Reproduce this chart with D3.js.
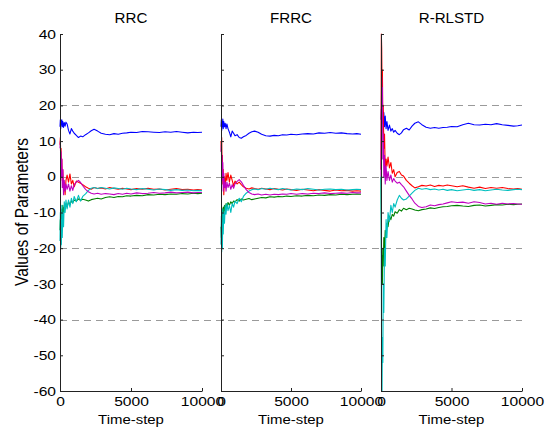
<!DOCTYPE html>
<html>
<head>
<meta charset="utf-8">
<script src="https://cdn.jsdelivr.net/npm/d3@7"></script>
<style>
  body { margin: 0; background: #fff; }
  text { font-family: "Liberation Sans", Arial, Helvetica, sans-serif; fill: #000; }
</style>
</head>
<body>
<div class="graphContainer"></div>
<script>
var width = 548;
var height = 432;

var panelTitles = ["RRC", "FRRC", "R-RLSTD"];
var yTicks = [40, 30, 20, 10, 0, -10, -20, -30, -40, -50, -60];
var xTicks = [0, 5000, 10000];
var refLines = [20, 0, -20, -40];

var timeSteps = [0, 25, 50, 75, 100, 130, 160, 200, 250, 300, 360, 420, 500, 600, 700, 800, 900, 1000, 1150, 1300,
  1450, 1600, 1800, 2000, 2200, 2400, 2650, 2900, 3200, 3500, 3800, 4100, 4400, 4700, 5000, 5400, 5800, 6200, 6600, 7000,
  7400, 7800, 8200, 8600, 9000, 9400, 9700, 10000];

// RRC
var rrcBlue = [14, 16, 13.5, 15.8, 14.5, 16, 14, 15.5, 13.8, 15.2, 14.2, 15.3, 14.8, 13, 12, 13.5, 12.8, 12.2, 11.6, 11.0,
  11.4, 11.2, 11.8, 12.3, 12.9, 13.3, 12.8, 12.2, 11.9, 11.8, 12.1, 11.9, 12.2, 12.3, 12.5, 12.4, 12.7, 12.6, 12.5, 12.4,
  12.6, 12.5, 12.7, 12.5, 12.3, 12.5, 12.4, 12.5];
var rrcGreen = [-15, -12, -16, -10, -14, -9, -12, -8, -10, -8.5, -9, -7.5, -8.5, -7, -7.8, -6.8, -7.2, -6.5, -6.8, -6.2,
  -6.6, -6.3, -6.5, -6.8, -6.4, -6.2, -6.0, -6.2, -5.8, -5.6, -5.8, -5.5, -5.6, -5.3, -5.4, -5.2, -5.3, -5.0, -5.1, -4.9,
  -5.0, -4.8, -4.9, -4.7, -4.8, -4.6, -4.7, -4.6];
var rrcRed = [9, 11, 6, 8, 3, 5, -1, 2, -4, -2, -5, -1, 0.5, -1.5, 0.8, -2, -1, -2.8, -1.2, -1.5,
  -1.8, -2.2, -2.8, -3.2, -3.5, -3.0, -3.3, -3.1, -3.4, -3.0, -3.3, -3.5, -3.2, -3.4, -3.6, -3.3, -3.5, -3.2, -3.5, -3.4,
  -3.7, -3.5, -3.3, -3.6, -3.5, -3.7, -3.6, -3.7];
var rrcCyan = [-18, -10, -20, -12, -19, -8, -17, -10, -14, -7, -10, -6.5, -9, -6.5, -8.5, -6, -7.5, -5.5, -7, -5.2,
  -6.8, -5.5, -4.8, -3.8, -3.2, -3.0, -3.3, -3.0, -3.2, -3.4, -3.1, -3.3, -3.5, -3.2, -3.4, -3.6, -3.3, -3.5, -3.7, -3.4,
  -3.6, -3.8, -3.6, -3.8, -3.7, -3.9, -3.8, -3.9];
var rrcMagenta = [8, 10, 4, 7, 0, 5, -3, 2, -5, -1, -4, -2, -3.5, -2, -4, -2.5, -3.8, -2.2, -1.5, -1.0,
  -1.6, -2.5, -3.5, -4.2, -4.6, -4.8, -4.6, -4.9, -4.7, -4.8, -5.0, -4.7, -4.9, -4.6, -4.8, -4.5, -4.7, -4.6, -4.4, -4.6,
  -4.5, -4.3, -4.5, -4.4, -4.3, -4.5, -4.4, -4.4];

// FRRC
var frrcBlue = [14, 16, 13, 15.5, 14, 16.2, 13.5, 15.5, 14, 15, 13.5, 14.8, 13.5, 12.5, 11.2, 12.8, 12.2, 11.5, 11.8, 11.0,
  10.8, 11.2, 11.6, 12.2, 12.6, 12.8, 12.5, 11.9, 11.5, 11.4, 11.6, 11.5, 11.8, 11.7, 11.9, 11.8, 12.0, 12.1, 12.0, 12.3,
  12.2, 12.4, 12.2, 12.3, 12.1, 12.0, 12.1, 11.9];
var frrcGreen = [-14, -17, -10, -15, -9, -13, -8.5, -11, -8, -9.5, -7.5, -8.5, -7.2, -8, -7, -7.5, -6.8, -7, -6.4, -6.8,
  -6.2, -6.5, -6.3, -6.1, -6.4, -6.2, -6.0, -5.8, -5.9, -5.6, -5.7, -5.5, -5.6, -5.4, -5.5, -5.3, -5.4, -5.2, -5.3, -5.1,
  -5.2, -5.0, -5.1, -4.9, -5.0, -4.9, -4.8, -4.9];
var frrcRed = [10, 7, 11, 3, 6, -2, 2, -5, 0, -3, 1, -1, 1.2, -1.5, 0.5, -1, -2.5, -1.2, -2, -1.5,
  -2.2, -2.8, -3.2, -3.4, -3.1, -3.3, -3.5, -3.2, -3.4, -3.6, -3.3, -3.5, -3.7, -3.4, -3.6, -3.8, -3.5, -3.7, -3.9, -3.6,
  -3.8, -4.0, -3.7, -3.9, -3.8, -4.0, -3.9, -4.0];
var frrcCyan = [-19, -11, -21, -13, -20, -9, -16, -10, -13, -8, -10.5, -7.5, -9.5, -8, -10, -7.5, -8.5, -6.8, -7.5, -6,
  -7, -5.5, -4.6, -4.0, -3.6, -3.4, -3.6, -3.3, -3.5, -3.2, -3.4, -3.6, -3.3, -3.5, -3.7, -3.4, -3.6, -3.3, -3.5, -3.7,
  -3.5, -3.4, -3.6, -3.5, -3.7, -3.6, -3.5, -3.6];
var frrcMagenta = [7, 9, 3, 6, -1, 4, -4, 1, -3, -1.5, -4, -1.5, -3, -1.8, -3.5, -2.2, -3.2, -2, -1.3, -0.8,
  -1.4, -2.4, -3.6, -4.4, -4.8, -5.0, -4.8, -5.1, -4.9, -5.1, -4.9, -5.0, -4.8, -4.9, -4.7, -4.9, -4.7, -4.8, -4.6, -4.7,
  -4.5, -4.7, -4.6, -4.5, -4.6, -4.4, -4.5, -4.5];

// R-RLSTD
var rlstdBlue = [16, 19, 17, 19.5, 17.5, 18.5, 16, 18, 14, 17, 13.5, 15.5, 13, 14.5, 12.8, 13.5, 12.5, 13, 12.2, 11.8,
  12.3, 13.2, 13.6, 13.1, 14.2, 15.0, 15.4, 14.6, 13.9, 13.6, 13.8, 13.6, 13.8, 13.9, 14.1, 14.0, 14.6, 15.0, 14.6, 14.5,
  14.7, 14.6, 14.9, 14.6, 14.4, 14.2, 14.3, 14.5];
var rlstdGreen = [0, -15, -28, -22, -30, -20, -25, -17, -20, -15, -17, -13, -14, -11, -12, -10.5, -11, -9.8, -10.2, -9.2,
  -9.6, -8.8, -9.2, -8.8, -9.0, -9.3, -9.5, -9.2, -9.0, -8.7, -8.9, -8.6, -8.4, -8.3, -8.1, -8.0, -8.2, -8.3, -8.0, -7.9,
  -8.2, -8.0, -7.8, -7.9, -7.7, -7.8, -7.7, -7.6];
var rlstdRed = [2, 40, 36, 25, 30, 15, 20, 8, 12, 2, 5, 3, 5.5, 2.5, 4, 1, 2, 0, 1.2, 1.5,
  0.5, 0.2, -1, -1.8, -2.5, -3.1, -2.8, -2.4, -2.6, -2.3, -2.7, -2.4, -2.6, -2.3, -2.5, -2.8, -2.5, -2.9, -3.2, -2.9,
  -3.3, -3.0, -3.2, -3.0, -3.3, -3.4, -3.3, -3.5];
var rlstdCyan = [0, -30, -55, -60, -45, -52, -30, -38, -20, -25, -12, -17, -10, -12.5, -8, -10, -7.5, -8.5, -6.5, -5.2,
  -6.0, -6.5, -6.2, -5.4, -4.6, -3.8, -3.2, -3.5, -3.3, -3.6, -3.4, -3.7, -3.5, -3.8, -3.6, -3.9, -3.7, -3.5, -3.8, -3.6,
  -3.9, -3.7, -3.5, -3.7, -3.8, -3.6, -3.5, -3.6];
var rlstdMagenta = [0, 20, 28, 15, 25, 5, 12, 0, 6, -2, 3, -1, 1.5, -1, 0.5, -1.5, -0.5, -1.2, -1.8, -1.5,
  -2.2, -2.8, -4.0, -5.2, -6.2, -7.4, -8.3, -8.6, -8.4, -7.9, -8.1, -7.8, -7.6, -7.3, -7.0, -7.2, -7.1, -7.4, -7.0, -7.2,
  -7.6, -7.4, -7.7, -7.4, -7.6, -7.5, -7.6, -7.7];

var seriesColours = ["#0000ff", "#008000", "#ff0000", "#00bfbf", "#bf00bf"];
var panelSeries = [
  [rrcBlue, rrcGreen, rrcRed, rrcCyan, rrcMagenta],
  [frrcBlue, frrcGreen, frrcRed, frrcCyan, frrcMagenta],
  [rlstdBlue, rlstdGreen, rlstdRed, rlstdCyan, rlstdMagenta]
];

var panelLeft = [60, 221, 381];
var panelRight = [202, 361, 522];
var plotTop = 34;
var plotBottom = 391;

// the figure text is a little wider than plain Helvetica
function stretch(sel, s) {
  sel.each(function () {
    var t = d3.select(this);
    var x = +t.attr("x") || 0;
    t.attr("x", x / s).attr("transform", "scale(" + s + ",1)");
  });
}

var svg = d3
  .select(".graphContainer")
  .append("svg")
  .attr("width", width)
  .attr("height", height);

svg.append("rect").attr("width", width).attr("height", height).attr("fill", "#fff");

var yScale = d3.scaleLinear().domain([-60, 40]).range([plotBottom, plotTop]);

// dashed reference lines across all panels
svg
  .append("g")
  .selectAll("line")
  .data(refLines)
  .enter()
  .append("line")
  .attr("x1", panelLeft[0])
  .attr("x2", panelRight[2])
  .attr("y1", function (d) { return Math.round(yScale(d)) + 0.5; })
  .attr("y2", function (d) { return Math.round(yScale(d)) + 0.5; })
  .attr("stroke", "#9a9a9a")
  .attr("stroke-width", 1)
  .attr("stroke-dasharray", "7,5");

panelTitles.forEach(function (title, i) {
  var xScale = d3.scaleLinear().domain([0, 10000]).range([panelLeft[i], panelRight[i]]);
  var mid = (panelLeft[i] + panelRight[i]) / 2;

  // lines
  var line = d3
    .line()
    .x(function (d, k) { return xScale(timeSteps[k]); })
    .y(function (d) { return yScale(d); });

  svg
    .append("g")
    .selectAll("path")
    .data(panelSeries[i])
    .enter()
    .append("path")
    .attr("d", line)
    .attr("fill", "none")
    .attr("stroke", function (d, k) { return seriesColours[k]; })
    .attr("stroke-width", 1.1)
    .attr("stroke-linejoin", "round");

  // y axis
  var yAxis = d3
    .axisLeft(yScale)
    .tickValues(yTicks)
    .tickSizeInner(-3)
    .tickSizeOuter(0)
    .tickPadding(4)
    .tickFormat(i === 0 ? function (d) { return String(d); } : function () { return ""; });

  var yAxisGroup = svg
    .append("g")
    .attr("transform", "translate(" + panelLeft[i] + ",0)")
    .call(yAxis);

  // x axis
  var xAxis = d3
    .axisBottom(xScale)
    .tickValues(xTicks)
    .tickSizeInner(-3)
    .tickSizeOuter(0)
    .tickPadding(6)
    .tickFormat(function (d) { return String(d); });

  var xAxisGroup = svg
    .append("g")
    .attr("transform", "translate(0," + plotBottom + ")")
    .call(xAxis);

  [yAxisGroup, xAxisGroup].forEach(function (g) {
    g.select(".domain").attr("stroke", "#222");
    g.selectAll(".tick line").attr("stroke", "#222");
    g.selectAll("text").attr("font-size", 13).attr("fill", "#000")
      .style("font-family", "'Liberation Sans', Arial, Helvetica, sans-serif")
      .call(stretch, 1.2);
  });

  // title and x label
  svg.append("text").attr("x", mid).attr("y", 23).attr("text-anchor", "middle")
    .attr("font-size", 14).text(title).call(stretch, 1.08);
  svg.append("text").attr("x", mid).attr("y", 424).attr("text-anchor", "middle")
    .attr("font-size", 13).text("Time-step").call(stretch, 1.15);
});

// ylabel
svg
  .append("text")
  .attr("transform", "translate(28,212) rotate(-90) scale(1,1.15)")
  .attr("text-anchor", "middle")
  .attr("font-size", 15.5)
  .text("Values of Parameters");
</script>
</body>
</html>
